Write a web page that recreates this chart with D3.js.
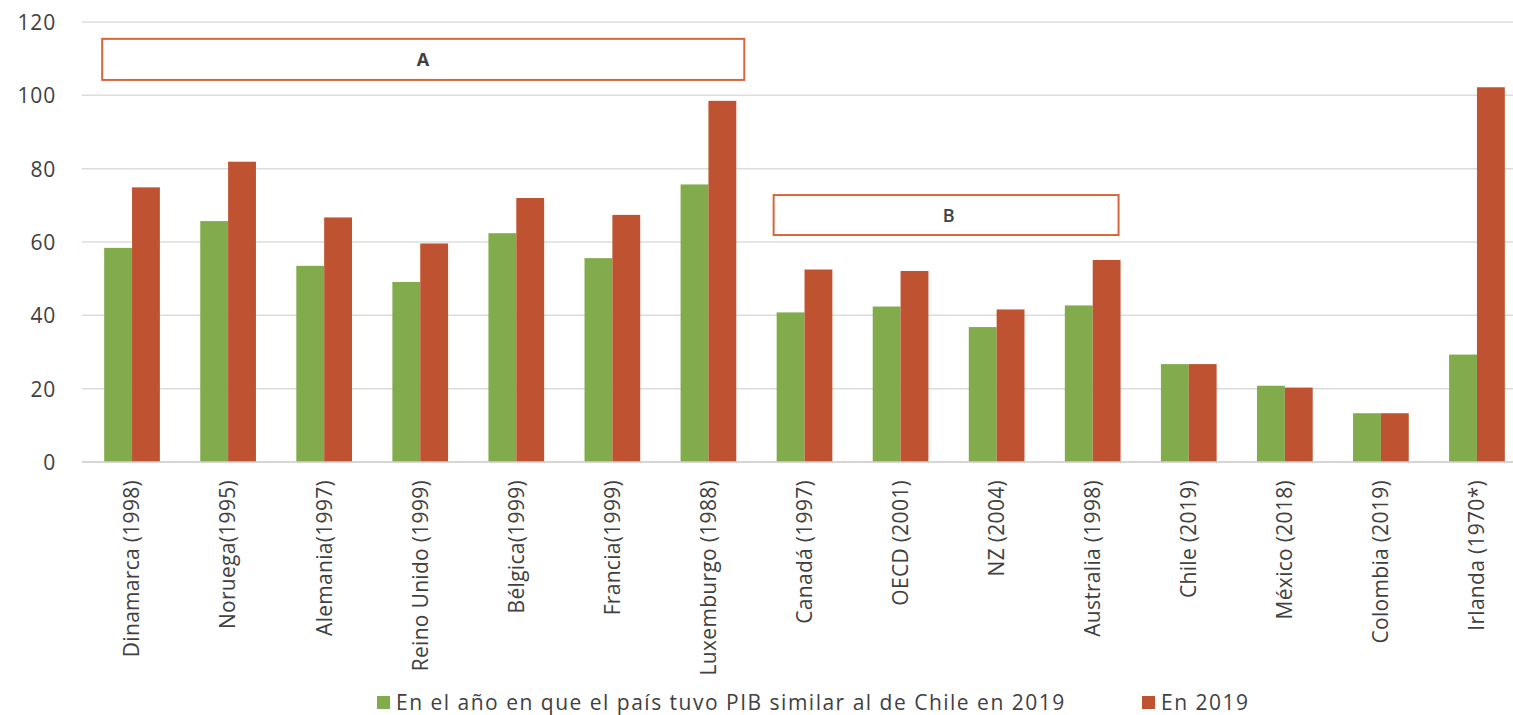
<!DOCTYPE html>
<html>
<head>
<meta charset="utf-8">
<script src="https://cdn.jsdelivr.net/npm/d3@7"></script>
<style>
  html, body { margin: 0; padding: 0; background: #fff; }
  svg { display: block; }
  text { font-family: "Open Sans", "Noto Sans", sans-serif; }
</style>
</head>
<body>
<svg id="chart" width="1513" height="715"></svg>
<script>
// Categories (country and reference year)
const categories = [
  "Dinamarca (1998)", "Noruega(1995)", "Alemania(1997)", "Reino Unido (1999)",
  "Bélgica(1999)", "Francia(1999)", "Luxemburgo (1988)", "Canadá (1997)",
  "OECD (2001)", "NZ (2004)", "Australia (1998)", "Chile (2019)",
  "México (2018)", "Colombia (2019)", "Irlanda (1970*)"
];

// Series values
const seriesNames = [
  "En el año en que el país tuvo PIB similar al de Chile en 2019",
  "En 2019"
];
const valuesSimilarYear = [58.4, 65.7, 53.5, 49.1, 62.4, 55.6, 75.7, 40.8, 42.4, 36.8, 42.7, 26.7, 20.8, 13.3, 29.3];
const values2019 = [74.9, 81.9, 66.7, 59.6, 72.0, 67.4, 98.5, 52.5, 52.1, 41.6, 55.1, 26.7, 20.3, 13.3, 102.2];

// Y-axis ticks
const yTicks = [0, 20, 40, 60, 80, 100, 120];

// Group annotations: label, first and last category, value span
const groups = [
  { label: "A", from: "Dinamarca (1998)", to: "Luxemburgo (1988)", lo: 104.2, hi: 115.4 },
  { label: "B", from: "Canadá (1997)", to: "Australia (1998)", lo: 61.9, hi: 72.8 }
];

const colors = ["#82ac4c", "#bf5331"];

const svg = d3.select("#chart");
const W = 1513, H = 715;
const plot = { left: 84, right: 1525, top: 22, bottom: 462 };

const x = d3.scaleBand().domain(categories).range([plot.left, plot.right])
  .paddingInner(0.42).paddingOuter(0.21);
const sub = d3.scaleBand().domain([0, 1]).range([0, x.bandwidth()]);
const y = d3.scaleLinear().domain([0, 120]).range([plot.bottom, plot.top]);

// Gridlines
svg.append("g").selectAll("line").data(yTicks).join("line")
  .attr("x1", plot.left - 2).attr("x2", W)
  .attr("y1", d => y(d)).attr("y2", d => y(d))
  .attr("stroke", "#dcdcdc").attr("stroke-width", 1.5);

// Y-axis labels
const yAxis = svg.append("g").attr("transform", `translate(${plot.left - 28},0)`)
  .call(d3.axisLeft(y).tickValues(yTicks).tickSize(0).tickPadding(0));
yAxis.select(".domain").remove();
yAxis.selectAll("text")
  .attr("fill", "#404040").attr("font-size", 21)
  .attr("letter-spacing", 0.8)
  .attr("dy", "0.35em");

// Bars
const rows = categories.map((c, i) => ({ c, v: [valuesSimilarYear[i], values2019[i]] }));
const grp = svg.append("g").selectAll("g").data(rows).join("g")
  .attr("transform", d => `translate(${x(d.c)},0)`);
grp.selectAll("rect").data(d => d.v.map((v, k) => ({ v, k }))).join("rect")
  .attr("x", d => sub(d.k)).attr("width", sub.bandwidth())
  .attr("y", d => y(d.v)).attr("height", d => y(0) - y(d.v))
  .attr("fill", d => colors[d.k]);

// Baseline
svg.append("line").attr("x1", plot.left - 2).attr("x2", W)
  .attr("y1", y(0)).attr("y2", y(0))
  .attr("stroke", "#d0d0d0").attr("stroke-width", 1.5);

// Category labels (rotated)
const xAxis = svg.append("g").attr("transform", `translate(0,${plot.bottom})`)
  .call(d3.axisBottom(x).tickSize(0).tickPadding(0));
xAxis.select(".domain").remove();
xAxis.selectAll("text")
  .attr("fill", "#404040").attr("font-size", 21)
  .attr("letter-spacing", 0.3)
  .attr("text-anchor", "end")
  .attr("transform", "translate(0,18) rotate(-90)")
  .attr("x", 0).attr("y", 0).attr("dy", "0.35em");

// Group annotation boxes (small per-box offsets around the band edges)
const boxPad = [[-2, 8], [-3, -2]];
const ann = svg.append("g").selectAll("g").data(groups).join("g");
ann.append("rect")
  .attr("x", (d, i) => x(d.from) + boxPad[i][0])
  .attr("width", (d, i) => x(d.to) + x.bandwidth() + boxPad[i][1] - (x(d.from) + boxPad[i][0]))
  .attr("y", d => y(d.hi)).attr("height", d => y(d.lo) - y(d.hi))
  .attr("fill", "#fff").attr("stroke", "#d9663a").attr("stroke-width", 2);
ann.append("text")
  .attr("x", (d, i) => i === 0 ? 423 : (x(d.from) + x(d.to) + x.bandwidth()) / 2)
  .attr("y", d => (y(d.hi) + y(d.lo)) / 2)
  .attr("dy", "0.36em").attr("text-anchor", "middle")
  .attr("font-size", 18).attr("font-weight", (d, i) => i === 0 ? 700 : 600)
  .attr("fill", "#404040")
  .text(d => d.label);

// Legend
const legend = svg.append("g").attr("transform", "translate(0,703)");
const legendX = [377, 1142];
const li = legend.selectAll("g").data(seriesNames).join("g")
  .attr("transform", (d, i) => `translate(${legendX[i]},0)`);
li.append("rect").attr("x", 0).attr("y", -7).attr("width", 13).attr("height", 13)
  .attr("fill", (d, i) => colors[i]);
li.append("text").attr("x", 19).attr("dy", "0.35em")
  .attr("font-size", 21).attr("letter-spacing", 1.5).attr("fill", "#404040")
  .text(d => d);
</script>
</body>
</html>
